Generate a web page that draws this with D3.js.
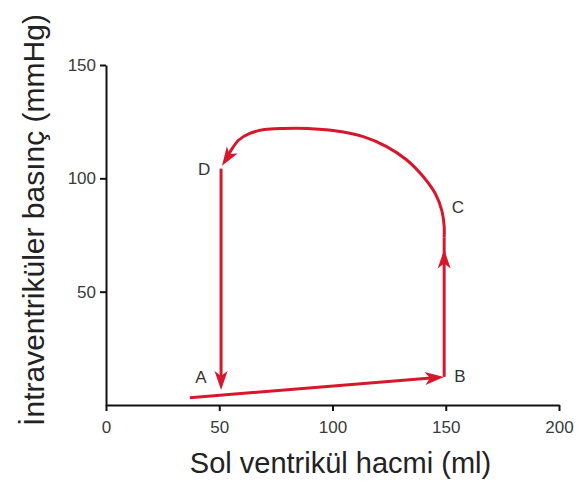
<!DOCTYPE html>
<html>
<head>
<meta charset="utf-8">
<script src="https://cdn.jsdelivr.net/npm/d3@7"></script>
<style>
  body { margin: 0; background: #fff; }
  svg { display: block; }
  .axis path, .axis line { stroke: #111; stroke-width: 2; }
  .axis text { font-family: "Liberation Sans", Arial, sans-serif; font-size: 17px; fill: #3a3a3a; }
</style>
</head>
<body>
<svg id="chart" width="581" height="500"></svg>
<script>
// axis ticks
const xTicks = [0, 50, 100, 150, 200];
const yTicks = [50, 100, 150];

// pressure-volume loop, one small array pair per phase (ml, mmHg)
const fillingVol = [37, 149.2];
const fillingPres = [3.2, 12.4];
const contractionVol = [149.3, 149.3, 149.3];
const contractionPres = [12.4, 68.6, 74];
const ejectionVol = [149.3, 149.3, 148.2, 145.3, 140.1, 132.8, 123.9, 113.6, 101, 89, 78, 70, 63.5, 58.5, 55, 51.2];
const ejectionPres = [74, 78.7, 86, 93.4, 100.7, 108.1, 114, 118.4, 121, 122, 122, 121.5, 119.8, 116.8, 112, 105.5];
const relaxationVol = [50.8, 50.8];
const relaxationPres = [104.3, 6.6];

// corner labels
const pointNames = ['A', 'B', 'C', 'D'];
const pointVol = [41.9, 156.3, 155.4, 43.3];
const pointPres = [9.5, 10, 84.5, 101.5];

const xTitle = 'Sol ventrikül hacmi (ml)';
const yTitle = 'İntraventriküler basınç (mmHg)';

const red = '#d8162c';
const font = '"Liberation Sans", Arial, sans-serif';

const svg = d3.select('#chart');
const x = d3.scaleLinear().domain([0, 200]).range([106, 559]);
const y = d3.scaleLinear().domain([0, 150]).range([405, 65]);

// axes
svg.append('g')
  .attr('class', 'axis')
  .attr('transform', `translate(0,${y(0)})`)
  .call(d3.axisBottom(x).tickValues(xTicks).tickSize(6).tickSizeOuter(0).tickPadding(10));

svg.append('g')
  .attr('class', 'axis')
  .attr('transform', `translate(${x(0)},0)`)
  .call(d3.axisLeft(y).tickValues(yTicks).tickSize(6).tickSizeOuter(0).tickPadding(4));

// turn two arrays into pixel points
function toPoints(vols, pres) {
  return vols.map((v, i) => [x(v), y(pres[i])]);
}

// arrow head with its tip at (px,py), pointing along angle (radians)
function drawArrow(px, py, angle) {
  svg.append('path')
    .attr('d', 'M0,0 L-19,-6.5 L-14,0 L-19,6.5 Z')
    .attr('fill', red)
    .attr('transform', `translate(${px},${py}) rotate(${angle * 180 / Math.PI})`);
}

function angleOf(a, b) {
  return Math.atan2(b[1] - a[1], b[0] - a[0]);
}

// pull the last point back so the line end hides under the arrow head
function trimEnd(pts, len) {
  const out = pts.slice();
  const a = out[out.length - 2], b = out[out.length - 1];
  const ang = angleOf(a, b);
  out[out.length - 1] = [b[0] - Math.cos(ang) * len, b[1] - Math.sin(ang) * len];
  return out;
}

const straight = d3.line();
const smooth = d3.line().curve(d3.curveCatmullRom.alpha(0.5));

function drawLine(pts, gen) {
  svg.append('path')
    .attr('d', gen(pts))
    .attr('fill', 'none')
    .attr('stroke', red)
    .attr('stroke-width', 3);
}

// A -> B
const filling = toPoints(fillingVol, fillingPres);
drawLine(trimEnd(filling, 10), straight);
drawArrow(filling[1][0], filling[1][1], angleOf(filling[0], filling[1]));

// B -> C (arrow sits part way up)
const contraction = toPoints(contractionVol, contractionPres);
drawLine(contraction, straight);
drawArrow(contraction[1][0], contraction[1][1], angleOf(contraction[0], contraction[1]));

// C -> D
const ejection = toPoints(ejectionVol, ejectionPres);
drawLine(trimEnd(ejection, 8), smooth);
const en = ejection.length;
drawArrow(ejection[en - 1][0], ejection[en - 1][1], angleOf(ejection[en - 3], ejection[en - 1]));

// D -> A
const relaxation = toPoints(relaxationVol, relaxationPres);
drawLine(trimEnd(relaxation, 10), straight);
drawArrow(relaxation[1][0], relaxation[1][1], angleOf(relaxation[0], relaxation[1]));

// point labels
svg.selectAll('text.point')
  .data(pointNames)
  .enter()
  .append('text')
  .attr('class', 'point')
  .attr('x', (d, i) => x(pointVol[i]))
  .attr('y', (d, i) => y(pointPres[i]))
  .attr('text-anchor', 'middle')
  .style('font-family', font)
  .style('font-size', '17px')
  .style('fill', '#333')
  .text((d) => d);

// axis titles
svg.append('text')
  .attr('x', 340.5)
  .attr('y', 473)
  .attr('text-anchor', 'middle')
  .style('font-family', font)
  .style('font-size', '29px')
  .style('fill', '#222')
  .text(xTitle);

svg.append('text')
  .attr('transform', 'translate(44,220) rotate(-90)')
  .attr('text-anchor', 'middle')
  .style('font-family', font)
  .style('font-size', '30px')
  .style('fill', '#222')
  .text(yTitle);
</script>
</body>
</html>
